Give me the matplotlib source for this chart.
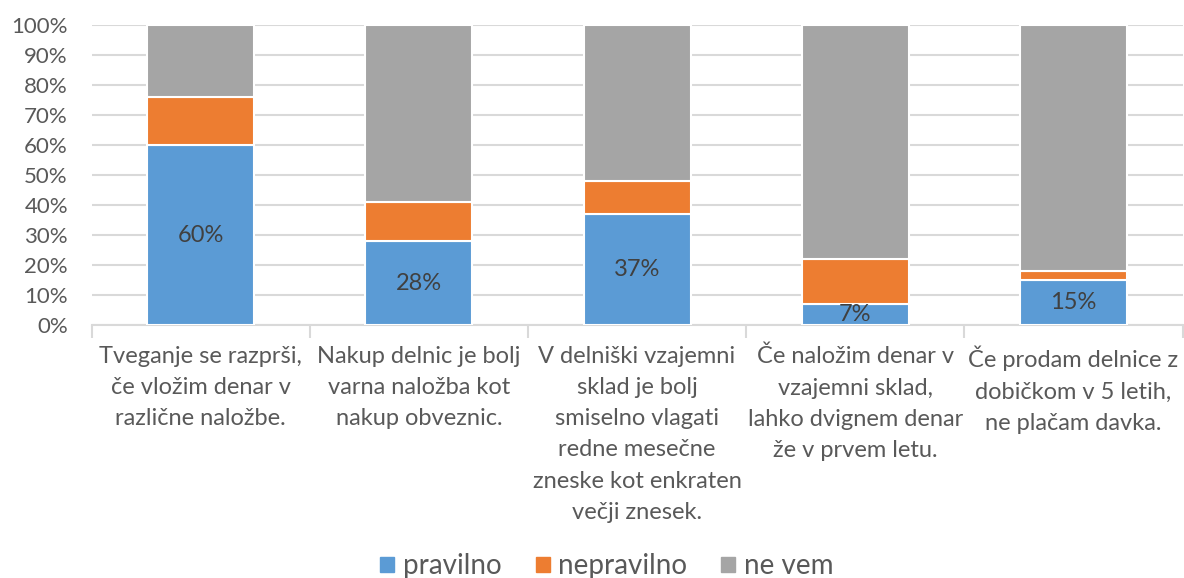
import matplotlib
matplotlib.use("Agg")
import matplotlib.pyplot as plt
import numpy as np
from matplotlib.ticker import PercentFormatter, FixedLocator

plt.rcParams['font.family'] = ['Lato', 'DejaVu Sans']

categories = [
    "Tveganje se razprši,\nče vložim denar v\nrazlične naložbe.",
    "Nakup delnic je bolj\nvarna naložba kot\nnakup obveznic.",
    "V delniški vzajemni\nsklad je bolj\nsmiselno vlagati\nredne mesečne\nzneske kot enkraten\nvečji znesek.",
    "Če naložim denar v\nvzajemni sklad,\nlahko dvignem denar\nže v prvem letu.",
    "Če prodam delnice z\ndobičkom v 5 letih,\nne plačam davka.",
]
pravilno = [60, 28, 37, 7, 15]
nepravilno = [16, 13, 11, 15, 3]
ne_vem = [24, 59, 52, 78, 82]
series_names = ["pravilno", "nepravilno", "ne vem"]
colors = ["#5B9BD5", "#ED7D31", "#A5A5A5"]

fig = plt.figure(figsize=(11.84, 5.78), dpi=100)
ax = fig.add_axes([0.0773, 0.4377, 0.9215, 0.519])

x = np.arange(len(categories))
w = 0.49
bottom = np.zeros(len(categories))
bars_list = []
for vals, name, c in zip([pravilno, nepravilno, ne_vem], series_names, colors):
    b = ax.bar(x, vals, w, bottom=bottom, color=c, edgecolor="white", linewidth=1.5,
               label=name, zorder=3)
    bars_list.append(b)
    bottom = bottom + np.array(vals)

for rect, v in zip(bars_list[0], pravilno):
    ax.text(rect.get_x() + rect.get_width() / 2, v / 2, f"{v}%", ha="center", va="center",
            fontsize=17, color="#404040", zorder=4)

ax.set_xlim(-0.5, len(categories) - 0.5)
ax.set_ylim(0, 100)
ax.yaxis.set_major_locator(FixedLocator(np.arange(0, 101, 10)))
ax.yaxis.set_major_formatter(PercentFormatter(decimals=0))
ax.grid(axis="y", color="#D9D9D9", linewidth=1.5, zorder=0)
for s in ["top", "right", "left"]:
    ax.spines[s].set_visible(False)
ax.spines["bottom"].set_color("#D9D9D9")
ax.spines["bottom"].set_linewidth(1.5)
ax.tick_params(axis="y", length=0, labelsize=16, labelcolor="#595959", pad=17)

ax.set_xticks(x)
ax.set_xticklabels(categories, fontsize=17, color="#595959", linespacing=1.6, va="top")
ax.tick_params(axis="x", length=0, pad=15)
ax.set_xticks(np.arange(-0.5, len(categories), 1), minor=True)
ax.tick_params(axis="x", which="minor", length=9, color="#D9D9D9", width=1.5)

handles = [plt.Rectangle((0, 0), 1, 1, color=c) for c in colors]
fig.legend(handles, series_names, loc="center", bbox_to_anchor=(0.5127, 0.02), ncol=3,
           frameon=False, fontsize=20, labelcolor="#595959", handlelength=0.5,
           handleheight=0.5, handletextpad=0.32, columnspacing=1.22)

fig.savefig("out.png", dpi=100)
